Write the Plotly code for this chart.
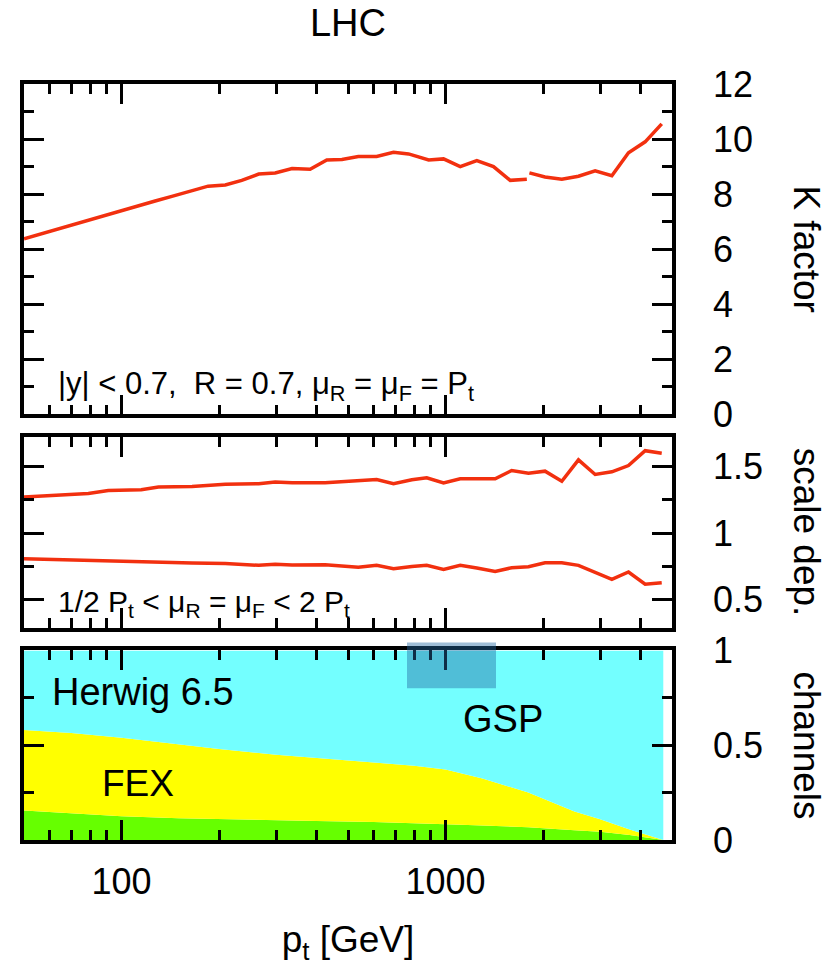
import numpy as np
import plotly.graph_objects as go

# ---------------- data ----------------
kf_pt = [50, 56, 63, 71, 80, 90, 100, 113, 127, 143, 161, 185, 209, 235, 265, 298, 336, 382,
         430, 479, 538, 613, 691, 769, 887, 986, 1110, 1249, 1406, 1584, 1782, 1800,
         1815, 2028, 2285, 2572, 2896, 3261, 3670, 4131, 4648]
kf_val = [6.38, 6.55, 6.72, 6.90, 7.06, 7.23, 7.40, 7.57, 7.75, 7.92, 8.10, 8.29, 8.33, 8.50,
          8.73, 8.77, 8.93, 8.90, 9.24, 9.26, 9.37, 9.37, 9.52, 9.46, 9.24, 9.28, 9.00, 9.22,
          9.00, 8.50, 8.54, None,
          8.77, 8.62, 8.54, 8.65, 8.85, 8.67, 9.50, 9.90, 10.55]

sd_pt = [50, 63, 79, 91, 115, 130, 165, 209, 265, 298, 336, 425, 538, 613, 691, 787, 875,
         986, 1110, 1249, 1423, 1600, 1803, 2028, 2285, 2572, 2896, 3261, 3670, 4131, 4648]
sd_up = [1.272, 1.285, 1.297, 1.320, 1.325, 1.346, 1.350, 1.366, 1.371, 1.383, 1.378, 1.378,
         1.390, 1.403, 1.371, 1.400, 1.415, 1.376, 1.408, 1.408, 1.408, 1.470, 1.450, 1.465,
         1.389, 1.550, 1.440, 1.460, 1.507, 1.619, 1.600]
sd_lo = [0.807, 0.800, 0.793, 0.790, 0.783, 0.780, 0.775, 0.772, 0.758, 0.767, 0.760, 0.762,
         0.743, 0.758, 0.733, 0.750, 0.758, 0.728, 0.758, 0.738, 0.713, 0.740, 0.748, 0.777,
         0.777, 0.758, 0.703, 0.653, 0.708, 0.616, 0.628]

ch_pt = [50, 70, 100, 150, 200, 300, 400, 600, 800, 1000, 1300, 1800, 2500, 3000, 3700, 4700]
ch_green = [0.155, 0.140, 0.125, 0.115, 0.110, 0.103, 0.100, 0.095, 0.090, 0.083, 0.077,
            0.067, 0.052, 0.043, 0.027, 0.0]
ch_yellow = [0.580, 0.565, 0.540, 0.505, 0.480, 0.450, 0.432, 0.410, 0.392, 0.372, 0.325,
             0.250, 0.150, 0.110, 0.055, 0.0]
ch_total = [1.0] * len(ch_pt)

x_major = [100, 1000]
x_minor = [60, 70, 80, 90, 200, 300, 400, 500, 600, 700, 800, 900, 2000, 3000, 4000]

# ---------------- style ----------------
RED = "#f2300f"
CYAN = "#73ffff"
YELLOW = "#ffff00"
GREEN = "#66ff00"
FONT = "Liberation Sans, Arial, Helvetica, sans-serif"
FS = 36

# page body has an 8px margin; compensate so the figure lands where the reference is
W, H = 823, 958
ML, MT, PW, PH = 16, 76, 648, 762

fig = go.Figure()
fig.add_trace(go.Scatter(x=kf_pt, y=kf_val, mode="lines", line=dict(color=RED, width=3.5),
                         connectgaps=False, xaxis="x", yaxis="y", showlegend=False))
fig.add_trace(go.Scatter(x=sd_pt, y=sd_up, mode="lines", line=dict(color=RED, width=3.5),
                         xaxis="x2", yaxis="y2", showlegend=False))
fig.add_trace(go.Scatter(x=sd_pt, y=sd_lo, mode="lines", line=dict(color=RED, width=3.5),
                         xaxis="x2", yaxis="y2", showlegend=False))
fig.add_trace(go.Scatter(x=ch_pt, y=ch_green, mode="lines", line=dict(width=0),
                         fill="tozeroy", fillcolor=GREEN, xaxis="x3", yaxis="y3", showlegend=False))
fig.add_trace(go.Scatter(x=ch_pt, y=ch_yellow, mode="lines", line=dict(width=0),
                         fill="tonexty", fillcolor=YELLOW, xaxis="x3", yaxis="y3", showlegend=False))
fig.add_trace(go.Scatter(x=ch_pt, y=ch_total, mode="lines", line=dict(width=0),
                         fill="tonexty", fillcolor=CYAN, xaxis="x3", yaxis="y3", showlegend=False))

def xax(anchor, labels):
    return dict(type="log", range=[np.log10(50), np.log10(5000)], anchor=anchor,
                tickmode="array", tickvals=x_major, ticktext=["100", "1000"],
                showticklabels=labels, ticks="inside", ticklen=20, tickwidth=3, tickcolor="black",
                minor=dict(tickmode="array", tickvals=x_minor, ticklen=10, tickwidth=3,
                           tickcolor="black", ticks="inside", showgrid=False),
                mirror="allticks", showline=True, linewidth=3.5, linecolor="black",
                showgrid=False, zeroline=False, ticklabelstandoff=7,
                tickfont=dict(family=FONT, size=FS, color="black"))

def yax(anchor, dom, rng, major, minor, labels):
    return dict(domain=dom, range=rng, anchor=anchor, side="right",
                tickmode="array", tickvals=major, ticktext=labels,
                ticks="inside", ticklen=20, tickwidth=3, tickcolor="black",
                minor=dict(tickmode="array", tickvals=minor, ticklen=10, tickwidth=3,
                           tickcolor="black", ticks="inside", showgrid=False),
                mirror="allticks", showline=True, linewidth=3.5, linecolor="black",
                showgrid=False, zeroline=False, ticklabelstandoff=30,
                tickfont=dict(family=FONT, size=FS, color="black"))

fig.update_layout(
    width=W, height=H,
    margin=dict(l=ML, r=W - ML - PW, t=MT, b=H - MT - PH),
    paper_bgcolor="white", plot_bgcolor="white",
    font=dict(family=FONT, size=FS, color="black"),
    title=dict(text="LHC", x=0.5, xref="paper", xanchor="center",
               y=1 - 15 / H, yanchor="middle", yref="container",
               font=dict(family=FONT, size=38, color="black")),
    xaxis=xax("y", False),
    xaxis2=xax("y2", False),
    xaxis3=xax("y3", True),
    yaxis=yax("x", [0.563, 1.0], [0, 12], [0, 2, 4, 6, 8, 10, 12], [1, 3, 5, 7, 9, 11],
              ["0", "2", "4", "6", "8", "10", "12"]),
    yaxis2=yax("x2", [0.2808, 0.5328], [0.29, 1.72], [0.5, 1.0, 1.5], [0.75, 1.25],
               ["0.5", "1", "1.5"]),
    yaxis3=yax("x3", [0.0, 0.2507], [0, 1], [0, 0.5, 1], [0.25, 0.75], ["0", "0.5", "1"]),
)
fig.update_layout(
    xaxis3_title=dict(text="p<sub>t</sub> [GeV]", standoff=26,
                      font=dict(family=FONT, size=37, color="black")),
)

ann = []
def side_title(text, yref):
    return dict(text=text, textangle=90, xref="paper", x=1.208, xanchor="center",
                yref=yref, y=0.5, yanchor="middle", showarrow=False,
                font=dict(family=FONT, size=37, color="black"))
ann.append(side_title("K factor", "y domain"))
ann.append(side_title("scale dep.", "y2 domain"))
ann.append(side_title("channels", "y3 domain"))

ann.append(dict(text="|y| &lt; 0.7,  R = 0.7, μ<sub>R</sub> = μ<sub>F</sub> = P<sub>t</sub>",
                xref="x domain", yref="y domain", x=0.05, y=0.02, xanchor="left",
                yanchor="bottom", showarrow=False, font=dict(family=FONT, size=31, color="black")))
ann.append(dict(text="1/2 P<sub>t</sub> &lt; μ<sub>R</sub> = μ<sub>F</sub> &lt; 2 P<sub>t</sub>",
                xref="x2 domain", yref="y2 domain", x=0.05, y=0.02, xanchor="left",
                yanchor="bottom", showarrow=False, font=dict(family=FONT, size=30, color="black")))
ann.append(dict(text="Herwig 6.5", xref="x3 domain", yref="y3 domain", x=0.04, y=0.78,
                xanchor="left", yanchor="middle", showarrow=False,
                font=dict(family=FONT, size=38, color="black")))
ann.append(dict(text="FEX", xref="x3 domain", yref="y3 domain", x=0.117, y=0.30,
                xanchor="left", yanchor="middle", showarrow=False,
                font=dict(family=FONT, size=37, color="black")))
ann.append(dict(text="GSP", xref="x3 domain", yref="y3 domain", x=0.675, y=0.64,
                xanchor="left", yanchor="middle", showarrow=False,
                font=dict(family=FONT, size=38, color="black")))
fig.update_layout(annotations=ann)

# highlight box near the top of the channels panel
fig.add_shape(type="rect", xref="paper", yref="paper",
              x0=(407 - 24) / PW, x1=(496 - 24) / PW,
              y0=(846 - 693) / PH, y1=(846 - 647) / PH,
              fillcolor="rgba(34,105,163,0.43)", line=dict(width=0), layer="above")

fig.write_html("out.html")
